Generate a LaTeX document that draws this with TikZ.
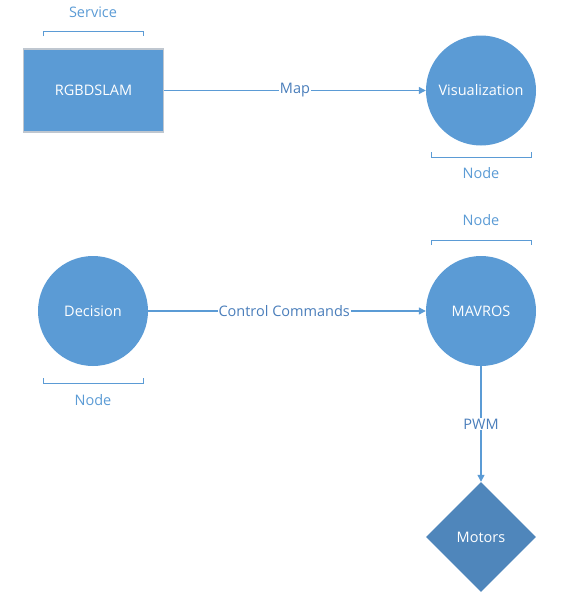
\documentclass[tikz,border=0pt]{standalone}
\usepackage{fontspec}
\setmainfont{Open Sans}
\usetikzlibrary{shapes.geometric,arrows.meta}
\definecolor{nodeblue}{HTML}{5B9BD5}
\definecolor{diablue}{HTML}{4F86BB}
\definecolor{labblue}{HTML}{4A7EBB}
\definecolor{rectedge}{HTML}{BFC7D0}
\tikzset{
  every node/.style={font=\fontsize{14.5}{17}\selectfont},
  circnode/.style={circle,fill=nodeblue,minimum size=110pt,inner sep=0pt,text=white},
  rectnode/.style={rectangle,fill=nodeblue,draw=rectedge,line width=1.2pt,minimum width=140pt,minimum height=83pt,inner sep=0pt,text=white},
  dianode/.style={diamond,fill=diablue,minimum size=110pt,inner sep=0pt,text=white,aspect=1},
  conn/.style={draw=nodeblue,line width=1.2pt,-{Triangle[length=7pt,width=7pt]}},
  elabel/.style={fill=white,text=labblue,inner sep=1pt},
  tag/.style={text=nodeblue},
  bracket/.style={draw=nodeblue,line width=0.9pt},
}
\begin{document}
\begin{tikzpicture}[x=1pt,y=-1pt]
\useasboundingbox (0,0) rectangle (561,597);
% nodes
\node[rectnode] (slam) at (93.5,90.5) {RGBDSLAM};
\node[circnode] (vis) at (481,90.5) {Visualization};
\node[circnode] (dec) at (93,311) {Decision};
\node[circnode] (mav) at (481,311) {MAVROS};
\node[dianode] (mot) at (481,537) {Motors};
% tags
\node[tag] (t1) at (93,12) {Service};
\draw[bracket] (43,36) -- (43,31) -- (143,31) -- (143,36);
\node[tag] (t2) at (481,173) {Node};
\draw[bracket] (431,152) -- (431,157) -- (531,157) -- (531,152);
\node[tag] (t3) at (481,220) {Node};
\draw[bracket] (431,245) -- (431,240) -- (531,240) -- (531,245);
\node[tag] (t4) at (93,400) {Node};
\draw[bracket] (43,378) -- (43,383) -- (143,383) -- (143,378);
% connectors
\draw[conn] (slam.east) -- node[elabel] {Map} (vis.west);
\draw[conn] (dec.east) -- node[elabel,pos=0.49] {Control Commands} (mav.west);
\draw[conn] (mav.south) -- node[elabel] {PWM} (mot.north);
\end{tikzpicture}
\end{document}
